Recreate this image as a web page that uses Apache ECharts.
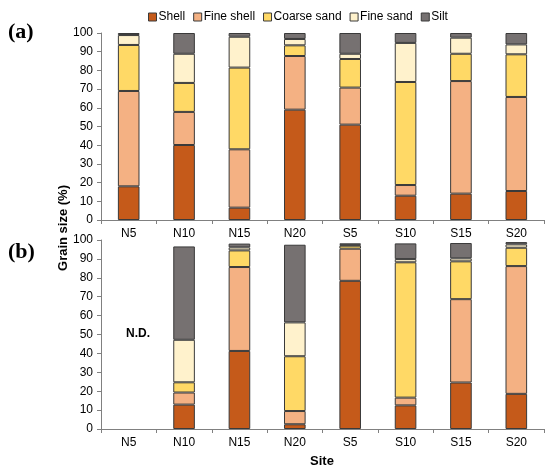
<!DOCTYPE html>
<html>
<head>
<meta charset="utf-8">
<script src="https://cdn.jsdelivr.net/npm/echarts@6/dist/echarts.min.js"></script>
<style>html,body{margin:0;padding:0;background:#fff;}#c{width:550px;height:471px;}</style>
</head>
<body>
<div id="c"></div>
<script>
const sites = ['N5','N10','N15','N20','S5','S10','S15','S20'];
const components = ['Shell','Fine shell','Coarse sand','Fine sand','Silt'];
const yTicks = [0,10,20,30,40,50,60,70,80,90,100];

// Panel (a)
const aShell      = [18.0, 40.1, 6.6, 59.0, 51.0, 13.0, 14.1, 15.5];
const aFineShell  = [51.0, 17.7, 31.2, 28.7, 19.8, 5.7, 60.2, 50.3];
const aCoarseSand = [24.6, 15.5, 43.7, 5.7, 15.3, 55.1, 14.6, 22.8];
const aFineSand   = [5.3, 15.6, 16.5, 3.4, 2.8, 20.9, 8.6, 5.3];
const aSilt       = [1.1, 11.1, 2.0, 3.2, 11.1, 5.3, 2.5, 6.1];

// Panel (b) - N5 not determined
const bShell      = ['-', 12.9, 41.3, 2.5, 78.4, 12.5, 24.6, 18.6];
const bFineShell  = ['-', 6.4, 44.4, 7.0, 17.0, 4.1, 44.1, 67.6];
const bCoarseSand = ['-', 5.4, 8.8, 29.0, 1.6, 71.6, 20.0, 9.7];
const bFineSand   = ['-', 22.5, 1.6, 17.9, 0.5, 1.7, 1.6, 1.8];
const bSilt       = ['-', 49.4, 2.0, 41.1, 0.7, 8.3, 8.1, 1.2];

const colors = ['#C55A1A','#F4B183','#FFD966','#FFF2CC','#767171'];
const aData = [aShell, aFineShell, aCoarseSand, aFineSand, aSilt];
const bData = [bShell, bFineShell, bCoarseSand, bFineSand, bSilt];

const font = 'Liberation Sans, Arial, sans-serif';
const chart = echarts.init(document.getElementById('c'));

function xAx(idx){
  return {
    type:'category', gridIndex: idx, data: sites,
    axisLine:{show:true, lineStyle:{color:'#808080', width:1}},
    axisTick:{show:true, alignWithLabel:false, length:4, lineStyle:{color:'#808080'}},
    axisLabel:{color:'#000', fontFamily:font, fontSize:12, margin:8},
    splitLine:{show:false}
  };
}
function yAx(idx){
  return {
    type:'value', gridIndex: idx, min: yTicks[0], max: yTicks[yTicks.length-1], interval: 10,
    axisLine:{show:true, lineStyle:{color:'#808080', width:1}},
    axisTick:{show:true, length:4, lineStyle:{color:'#808080'}},
    axisLabel:{color:'#000', fontFamily:font, fontSize:12, margin:8},
    splitLine:{show:false}
  };
}

const series = [];
[aData, bData].forEach((panel, p) => {
  panel.forEach((vals, i) => {
    series.push({
      name: components[i], type:'bar', stack:'s'+p,
      xAxisIndex:p, yAxisIndex:p, data: vals, barWidth:'39%',
      itemStyle:{color:colors[i], borderColor:'#3a3a3a', borderWidth:1},
      emphasis:{disabled:true}
    });
  });
});

chart.setOption({
  animation:false,
  color: colors,
  legend:{
    data: components, left:143, top:6, itemWidth:8, itemHeight:8, itemGap:8,
    icon:'rect',
    textStyle:{color:'#000', fontFamily:font, fontSize:12, padding:[0,0,0,-3]},
    itemStyle:{borderColor:'#3a3a3a', borderWidth:1}
  },
  grid:[
    {left:101, top:33, width:443, height:187},
    {left:101, top:240, width:443, height:189}
  ],
  xAxis:[xAx(0), xAx(1)],
  yAxis:[yAx(0), yAx(1)],
  series: series,
  graphic:[
    {type:'text', left:8, top:21, style:{text:'(a)', font:'bold 22px "Liberation Serif", "Times New Roman", serif', fill:'#000'}},
    {type:'text', left:8, top:241, style:{text:'(b)', font:'bold 22px "Liberation Serif", "Times New Roman", serif', fill:'#000'}},
    {type:'text', x:63, y:228, rotation:Math.PI/2, style:{text:'Grain size (%)', font:'bold 13px "Liberation Sans", Arial, sans-serif', fill:'#000', align:'center', verticalAlign:'middle'}},
    {type:'text', x:322, y:461, style:{text:'Site', font:'bold 13px "Liberation Sans", Arial, sans-serif', fill:'#000', align:'center', verticalAlign:'middle'}},
    {type:'text', x:138, y:334, style:{text:'N.D.', font:'bold 12px "Liberation Sans", Arial, sans-serif', fill:'#000', align:'center', verticalAlign:'middle'}}
  ]
});
</script>
</body>
</html>
